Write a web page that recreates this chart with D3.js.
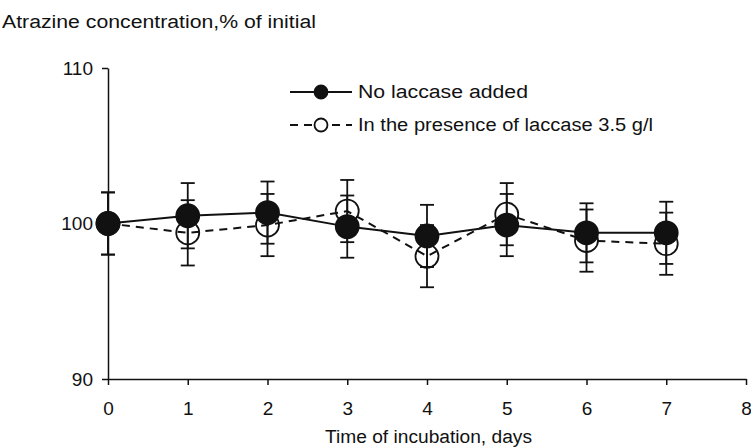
<!DOCTYPE html>
<html>
<head>
<meta charset="utf-8">
<script src="https://cdn.jsdelivr.net/npm/d3@7"></script>
<style>
  body { margin: 0; background: #fff; }
  text { font-family: Arial, "Liberation Sans", sans-serif; fill: #111; }
</style>
</head>
<body>
<div id="container"></div>
<script>
//chart data
var days = [0, 1, 2, 3, 4, 5, 6, 7];
var noLaccase = [100, 100.5, 100.7, 99.8, 99.2, 99.9, 99.4, 99.4];
var noLaccaseErr = [2.0, 2.1, 2.0, 2.0, 2.0, 2.0, 1.9, 2.0];
var withLaccase = [100, 99.4, 99.9, 100.8, 97.9, 100.6, 98.9, 98.7];
var withLaccaseErr = [2.0, 2.1, 2.0, 2.0, 2.0, 2.0, 2.0, 2.0];
var xTicks = [0, 1, 2, 3, 4, 5, 6, 7, 8];
var yTicks = [90, 100, 110];

var width = 751, height = 448;

var svg = d3.select("#container")
    .append("svg")
    .attr("width", width)
    .attr("height", height);

var x = d3.scaleLinear().domain([0, 8]).range([108, 746]);
var y = d3.scaleLinear().domain([90, 110]).range([379, 68]);

//axes
var xAxis = svg.append("g")
    .attr("transform", "translate(0," + y(90) + ")")
    .call(d3.axisBottom(x).tickValues(xTicks).tickSize(6).tickPadding(17).tickSizeOuter(0));
var yAxis = svg.append("g")
    .attr("transform", "translate(" + x(0) + ",0)")
    .call(d3.axisLeft(y).tickValues(yTicks).tickSize(6).tickPadding(9).tickSizeOuter(0));

[xAxis, yAxis].forEach(function (g) {
    g.attr("font-size", null).attr("font-family", null);
    g.select(".domain").attr("stroke", "#111").attr("stroke-width", 1.5);
    g.selectAll(".tick line").attr("stroke", "#111").attr("stroke-width", 1.5);
    g.selectAll(".tick text").attr("fill", "#111")
        .style("font-size", "19px");
});

//titles
svg.append("text").attr("x", 2).attr("y", 28)
    .style("font-size", "18px")
    .attr("textLength", 314).attr("lengthAdjust", "spacingAndGlyphs")
    .text("Atrazine concentration,% of initial");
svg.append("text").attr("x", 325).attr("y", 443)
    .style("font-size", "18px")
    .attr("textLength", 207).attr("lengthAdjust", "spacingAndGlyphs")
    .text("Time of incubation, days");

function drawSeries(vals, errs, dashed, filled) {
    var data = days.map(function (d, i) { return {d: d, v: vals[i], e: errs[i]}; });

    var line = d3.line().x(function (p) { return x(p.d); }).y(function (p) { return y(p.v); });
    svg.append("path")
        .datum(data)
        .attr("d", line)
        .attr("fill", "none")
        .attr("stroke", "#111")
        .attr("stroke-width", 2)
        .attr("stroke-dasharray", dashed ? "8,6" : null);

    var eb = svg.append("g").selectAll("g").data(data).enter().append("g");
    eb.append("line")
        .attr("x1", function (p) { return x(p.d); }).attr("x2", function (p) { return x(p.d); })
        .attr("y1", function (p) { return y(p.v + p.e); }).attr("y2", function (p) { return y(p.v - p.e); })
        .attr("stroke", "#111").attr("stroke-width", 1.8);
    [1, -1].forEach(function (s) {
        eb.append("line")
            .attr("x1", function (p) { return x(p.d) - 7; }).attr("x2", function (p) { return x(p.d) + 7; })
            .attr("y1", function (p) { return y(p.v + s * p.e); }).attr("y2", function (p) { return y(p.v + s * p.e); })
            .attr("stroke", "#111").attr("stroke-width", 1.8);
    });

    svg.append("g").selectAll("circle").data(data).enter().append("circle")
        .attr("cx", function (p) { return x(p.d); })
        .attr("cy", function (p) { return y(p.v); })
        .attr("r", 11.5)
        .attr("fill", filled ? "#111" : "none")
        .attr("stroke", "#111")
        .attr("stroke-width", 1.8);
}

drawSeries(withLaccase, withLaccaseErr, true, false);
drawSeries(noLaccase, noLaccaseErr, false, true);

//legend
var legend = [
    {label: "No laccase added", dashed: false, filled: true, y: 92, len: 170},
    {label: "In the presence of laccase 3.5 g/l", dashed: true, filled: false, y: 125, len: 295}
];
legend.forEach(function (l) {
    svg.append("line").attr("x1", 290).attr("x2", 352).attr("y1", l.y).attr("y2", l.y)
        .attr("stroke", "#111").attr("stroke-width", 2)
        .attr("stroke-dasharray", l.dashed ? "8,6" : null);
    svg.append("circle").attr("cx", 321).attr("cy", l.y).attr("r", 6.5)
        .attr("fill", l.filled ? "#111" : "#fff")
        .attr("stroke", "#111").attr("stroke-width", 1.8);
    svg.append("text").attr("x", 358).attr("y", l.y + 6)
        .style("font-size", "18px")
        .attr("textLength", l.len).attr("lengthAdjust", "spacingAndGlyphs")
        .text(l.label);
});
</script>
</body>
</html>
